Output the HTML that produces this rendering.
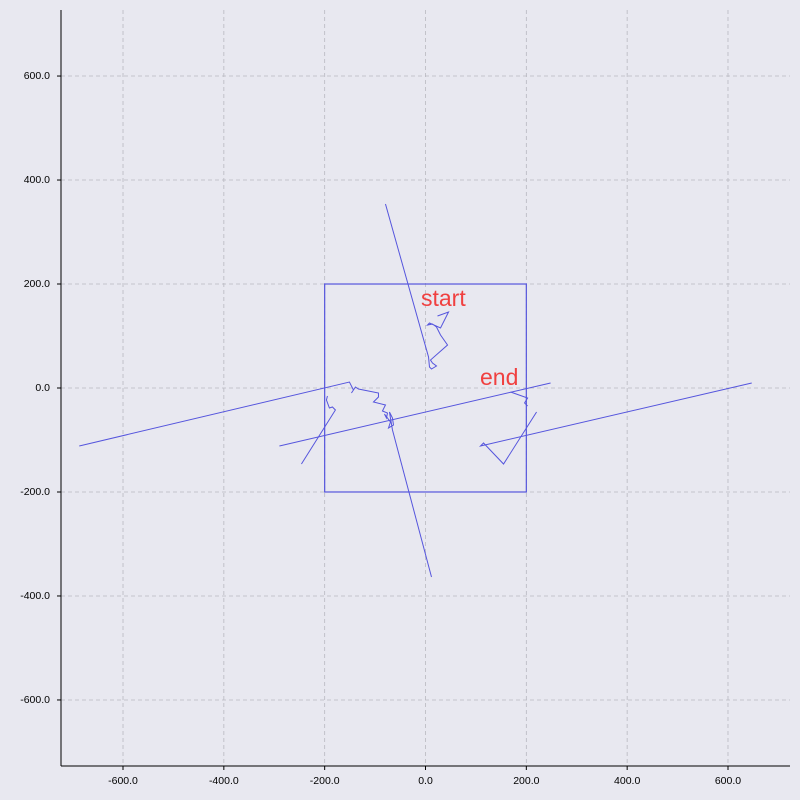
<!DOCTYPE html>
<html><head><meta charset="utf-8"><style>
html,body{margin:0;padding:0;background:#e8e8f0;}
svg{display:block;font-family:"Liberation Sans",sans-serif;}
</style></head><body>
<svg id="chart" width="800" height="800"></svg>
<script>
const xTicks=[-600,-400,-200,0,200,400,600];
const yTicks=[-600,-400,-200,0,200,400,600];
const boxX=[-200,200];
const boxY=[-200,200];
const seg1X=[-79.4,6,7.9,11.9,21.8,13.9,9.9,43.7,29.8,21.8,13.9,4,7.9,29.8,45.7,23.8];
const seg1Y=[353.8,59.6,40.4,36.5,42.3,48.1,53.8,82.7,101.9,117.3,123.1,121.1,125,115.4,146.1,138.5];
const seg2X=[-686.8,-150.9,-142.9,-146.9,-139,-133,-93.3,-93.3,-103.2,-79.4,-85.4,-75.4,-77.4,-81.4,-69.5,-73.4,-63.5,-65.5,-71.5,-65.5,11.9];
const seg2Y=[-111.5,11.5,-3.8,-9.6,1.9,-1.9,-9.6,-17.3,-26.9,-32.7,-44.2,-48.1,-57.7,-50,-65.4,-76.9,-71.2,-57.7,-46.2,-80.8,-363.5];
const seg3X=[-246.1,-178.7,-184.6,-190.6,-196.5,-194.5];
const seg3Y=[-146.2,-42.3,-36.5,-38.5,-23.1,-15.4];
const seg4X=[-289.8,248.1];
const seg4Y=[-111.5,9.6];
const seg5X=[647.1,109.2,115.1,154.8,220.3];
const seg5Y=[9.6,-111.5,-105.8,-146.2,-46.2];
const seg6X=[168.7,202.5,196.5,202.5];
const seg6Y=[-7.7,-19.2,-28.8,-34.6];

const NS="http://www.w3.org/2000/svg";
const svg=document.getElementById('chart');
const L=61,R=790,T=10,B=766;
const xMin=-723,xMax=723,yMin=-727,yMax=727;
const sx=v=>L+(v-xMin)/(xMax-xMin)*(R-L);
const sy=v=>B-(v-yMin)/(yMax-yMin)*(B-T);
function mk(tag,attrs){const e=document.createElementNS(NS,tag);for(const k in attrs)e.setAttribute(k,attrs[k]);svg.appendChild(e);return e;}

xTicks.forEach(t=>{
  const g=mk('line',{x1:sx(t),x2:sx(t),y1:T,y2:B,stroke:'#b8b8c0','stroke-dasharray':'4,3','stroke-width':0.8});
  
  
  const tk=mk('line',{x1:sx(t),x2:sx(t),y1:B,y2:B+4,stroke:'#000'});
  
  
  const tx=mk('text',{x:sx(t),y:B+18,'text-anchor':'middle','font-size':10.5,fill:'#000'});
  tx.textContent=t.toFixed(1);
  
  
});
yTicks.forEach(t=>{
  const g=mk('line',{x1:L,x2:R,y1:sy(t),y2:sy(t),stroke:'#b8b8c0','stroke-dasharray':'4,3','stroke-width':0.8});
  
  
  const tk=mk('line',{x1:L-4,x2:L,y1:sy(t),y2:sy(t),stroke:'#000'});
  
  
  const tx=mk('text',{x:L-11,y:sy(t)+3,'text-anchor':'end','font-size':10.5,fill:'#000'});
  tx.textContent=t.toFixed(1);
  
  
});
const ax=mk('line',{x1:L,x2:L,y1:T,y2:B,stroke:'#000','stroke-width':1});


const bx=mk('line',{x1:L,x2:R,y1:B,y2:B,stroke:'#000','stroke-width':1});



const box=mk('rect',{x:sx(boxX[0]),y:sy(boxY[1]),width:sx(boxX[1])-sx(boxX[0]),height:sy(boxY[0])-sy(boxY[1]),fill:'none',stroke:'#5555dd','stroke-width':1.2});



[[seg1X,seg1Y],[seg2X,seg2Y],[seg3X,seg3Y],[seg4X,seg4Y],[seg5X,seg5Y],[seg6X,seg6Y]].forEach(([xs,ys])=>{
  const p=mk('polyline',{points:xs.map((x,i)=>sx(x)+','+sy(ys[i])).join(' '),fill:'none',stroke:'#5555dd','stroke-width':1});
  
  
});

const s=mk('text',{x:421,y:306,'font-size':23,fill:'#f04040'});
s.textContent='start';


const e=mk('text',{x:480,y:385,'font-size':23,fill:'#f04040'});
e.textContent='end';


</script>
</body></html>
